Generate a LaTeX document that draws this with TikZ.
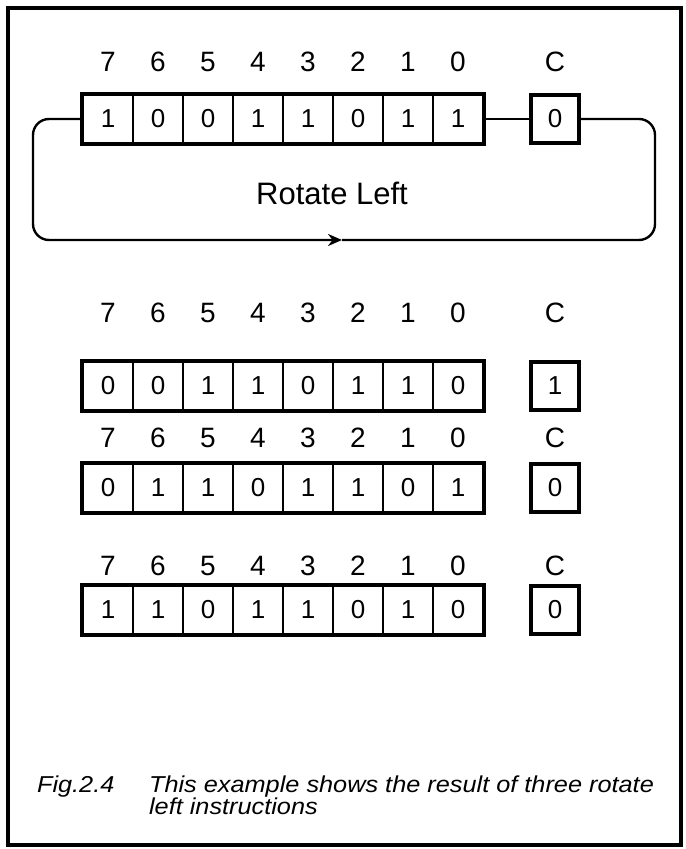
\documentclass[tikz,border=0pt]{standalone}
\usepackage{fontspec}
\setmainfont{Liberation Sans}
\newfontfamily\capfont[FakeStretch=1.1]{Liberation Sans}
\usetikzlibrary{arrows.meta}

\begin{document}
\begin{tikzpicture}[x=0.5pt,y=-0.5pt,
    bit/.style={draw, line width=1pt, minimum width=25pt, minimum height=24pt,
        inner sep=0pt, font=\fontsize{13}{13}\selectfont},
    carrybox/.style={draw, line width=2pt, minimum width=24pt, minimum height=24pt,
        inner sep=0pt, font=\fontsize{13}{13}\selectfont},
    idx/.style={font=\fontsize{14}{14}\selectfont},
    loopline/.style={line width=1.2pt, rounded corners=8pt},
    caption/.style={anchor=base west, align=left, font=\capfont\itshape\fontsize{11.5}{11}\selectfont}
]

% Page and frame
\useasboundingbox (0,0) rectangle (685,849);
\draw[line width=1.6pt] (8,8) rectangle (681,845);

% Registers: row / centre y / label y / carry / bits 7..0
\foreach \row/\yc/\yl/\cval/\bits in {
    1/119/62/0/{1,0,0,1,1,0,1,1},
    2/386/313/1/{0,0,1,1,0,1,1,0},
    3/488/438/0/{0,1,1,0,1,1,0,1},
    4/610/566/0/{1,1,0,1,1,0,1,0}}{
  \foreach \b [count=\i from 0, evaluate=\i as \n using int(7-\i)] in \bits {
    \node[bit] (r\row b\n) at (108+50*\i,\yc) {\b};
    \node[idx] (l\row b\n) at (108+50*\i,\yl) {\n};
  }
  \draw[line width=1.6pt] (r\row b7.north west) rectangle (r\row b0.south east);
  \node[carrybox] (c\row) at (555,\yc) {\cval};
  \node[idx] (lc\row) at (555,\yl) {C};
}

% Rotate loop round the first register
\coordinate (loopNW) at (33,119);
\coordinate (loopSW) at (33,240);
\coordinate (loopSE) at (655,240);
\coordinate (loopNE) at (655,119);
\coordinate (loopArr) at (342,240);

\draw[line width=1.2pt] (r1b0.east) -- (c1.west);
\draw[loopline, -{Stealth[length=7pt,width=6pt]}]
    (r1b7.west) -- (loopNW) -- (loopSW) -- (loopArr);
\draw[loopline] (loopArr) -- (loopSE) -- (loopNE) -- (c1.east);

\node[idx, font=\fontsize{15.5}{16}\selectfont] (rotl) at (332,193) {Rotate Left};

% --- Caption ---
\node[caption] (fig) at (30,792) {Fig.2.4};
\node[caption] (cap) at (142,814) {This example shows the result of three rotate\\left instructions};

\end{tikzpicture}
\end{document}
